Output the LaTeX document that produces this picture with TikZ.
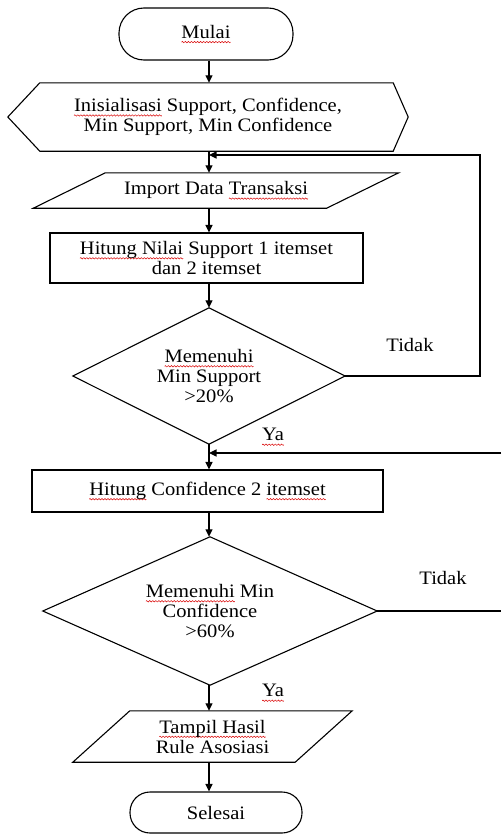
\documentclass[tikz,border=0pt]{standalone}
\usepackage{fontspec}
\setmainfont[FakeStretch=1.08]{Liberation Serif}
\usetikzlibrary{arrows.meta,calc}
\newcommand\wavebox{\tikz[x=1pt,y=1pt,baseline=0pt]{\path[use as bounding box](0,-0.8) rectangle (3,0.8);\draw[red!85!black,line width=0.5pt,sharp corners] (0,0) sin (0.75,0.7) cos (1.5,0) sin (2.25,-0.7) cos (3,0);}}
\newcommand\wv[1]{\setbox0\hbox{#1}\rlap{\raisebox{-3.8pt}{\hbox to \wd0{\xleaders\hbox{\wavebox}\hfil}}}#1}
\begin{document}
\begin{tikzpicture}[x=1pt,y=-1pt,
  every node/.style={font=\fontsize{19}{20}\selectfont, align=center, inner sep=0pt},
  line/.style={line width=1.1pt, draw=black},
  arr/.style={line, -{Triangle[length=7.5pt,width=7pt]}},
  term/.style={line, rectangle},
  proc/.style={line, rectangle}]
\useasboundingbox (0,0) rectangle (501,835);
\coordinate (spine) at (209,0);

\node[term, rounded corners=25pt, minimum width=174pt, minimum height=52pt] (mulai) at (206,34) {\wv{Mulai}};

\node[minimum width=400pt, minimum height=68pt] (init) at (208,117)
  {\wv{Inisialisasi} Support, Confidence,\\Min Support, Min Confidence};
\draw[line] (init.west) -- ([xshift=32pt]init.north west) -- ([xshift=-15pt]init.north east)
  -- (init.east) -- ([xshift=-15pt]init.south east) -- ([xshift=32pt]init.south west) -- cycle;

\node[minimum width=365pt, minimum height=35pt] (imp) at (216,190.5) {Import Data \wv{Transaksi}};
\draw[line] ([xshift=72pt]imp.north west) -- (imp.north east) -- ([xshift=-72pt]imp.south east)
  -- (imp.south west) -- cycle;

\node[proc, minimum width=313pt, minimum height=50pt] (r1) at (206.5,258)
  {\wv{Hitung Nilai} Support 1 itemset\\dan 2 itemset};

\node[minimum width=272pt, minimum height=136pt] (d1) at (209,376)
  {\wv{Memenuhi}\\Min Support\\>20\%};
\draw[line] (d1.north) -- (d1.east) -- (d1.south) -- (d1.west) -- cycle;

\node[proc, minimum width=351pt, minimum height=42pt] (r2) at (207.5,491)
  {\wv{Hitung} Confidence 2 \wv{itemset}};

\node[minimum width=334pt, minimum height=148pt] (d2) at (210,611)
  {\wv{Memenuhi} Min\\Confidence\\>60\%};
\draw[line] (d2.north) -- (d2.east) -- (d2.south) -- (d2.west) -- cycle;

\node[minimum width=279pt, minimum height=51pt] (out) at (212.5,736.5)
  {\wv{Tampil Hasil}\\Rule Asosiasi};
\draw[line] ([xshift=57pt]out.north west) -- (out.north east) -- ([xshift=-57pt]out.south east)
  -- (out.south west) -- cycle;

\node[term, rounded corners=20pt, minimum width=172pt, minimum height=41pt] (selesai) at (216,812.5) {Selesai};

\node (tidak1) at (410,345) {Tidak};
\node (ya1) at (273,437) {\wv{Ya}};
\node (tidak2) at (443,578) {Tidak};
\node (ya2) at (273,693) {\wv{Ya}};

\coordinate (loop1) at (480,155);
\coordinate (edgeA) at (501,453);
\coordinate (edgeB) at (501,611);

\draw[arr] (spine |- mulai.south) -- (spine |- init.north);
\draw[arr] (spine |- init.south) -- (spine |- imp.north);
\draw[arr] (spine |- imp.south) -- (spine |- r1.north);
\draw[arr] (spine |- r1.south) -- (spine |- d1.north);
\draw[arr] (spine |- d1.south) -- (spine |- r2.north);
\draw[arr] (spine |- r2.south) -- (spine |- d2.north);
\draw[arr] (spine |- d2.south) -- (spine |- out.north);
\draw[arr] (spine |- out.south) -- (spine |- selesai.north);
\draw[arr] (d1.east) -| (loop1) -- (spine |- loop1);
\draw[arr] (edgeA) -- (spine |- edgeA);
\draw[line] (d2.east) -- (edgeB);
\end{tikzpicture}
\end{document}
